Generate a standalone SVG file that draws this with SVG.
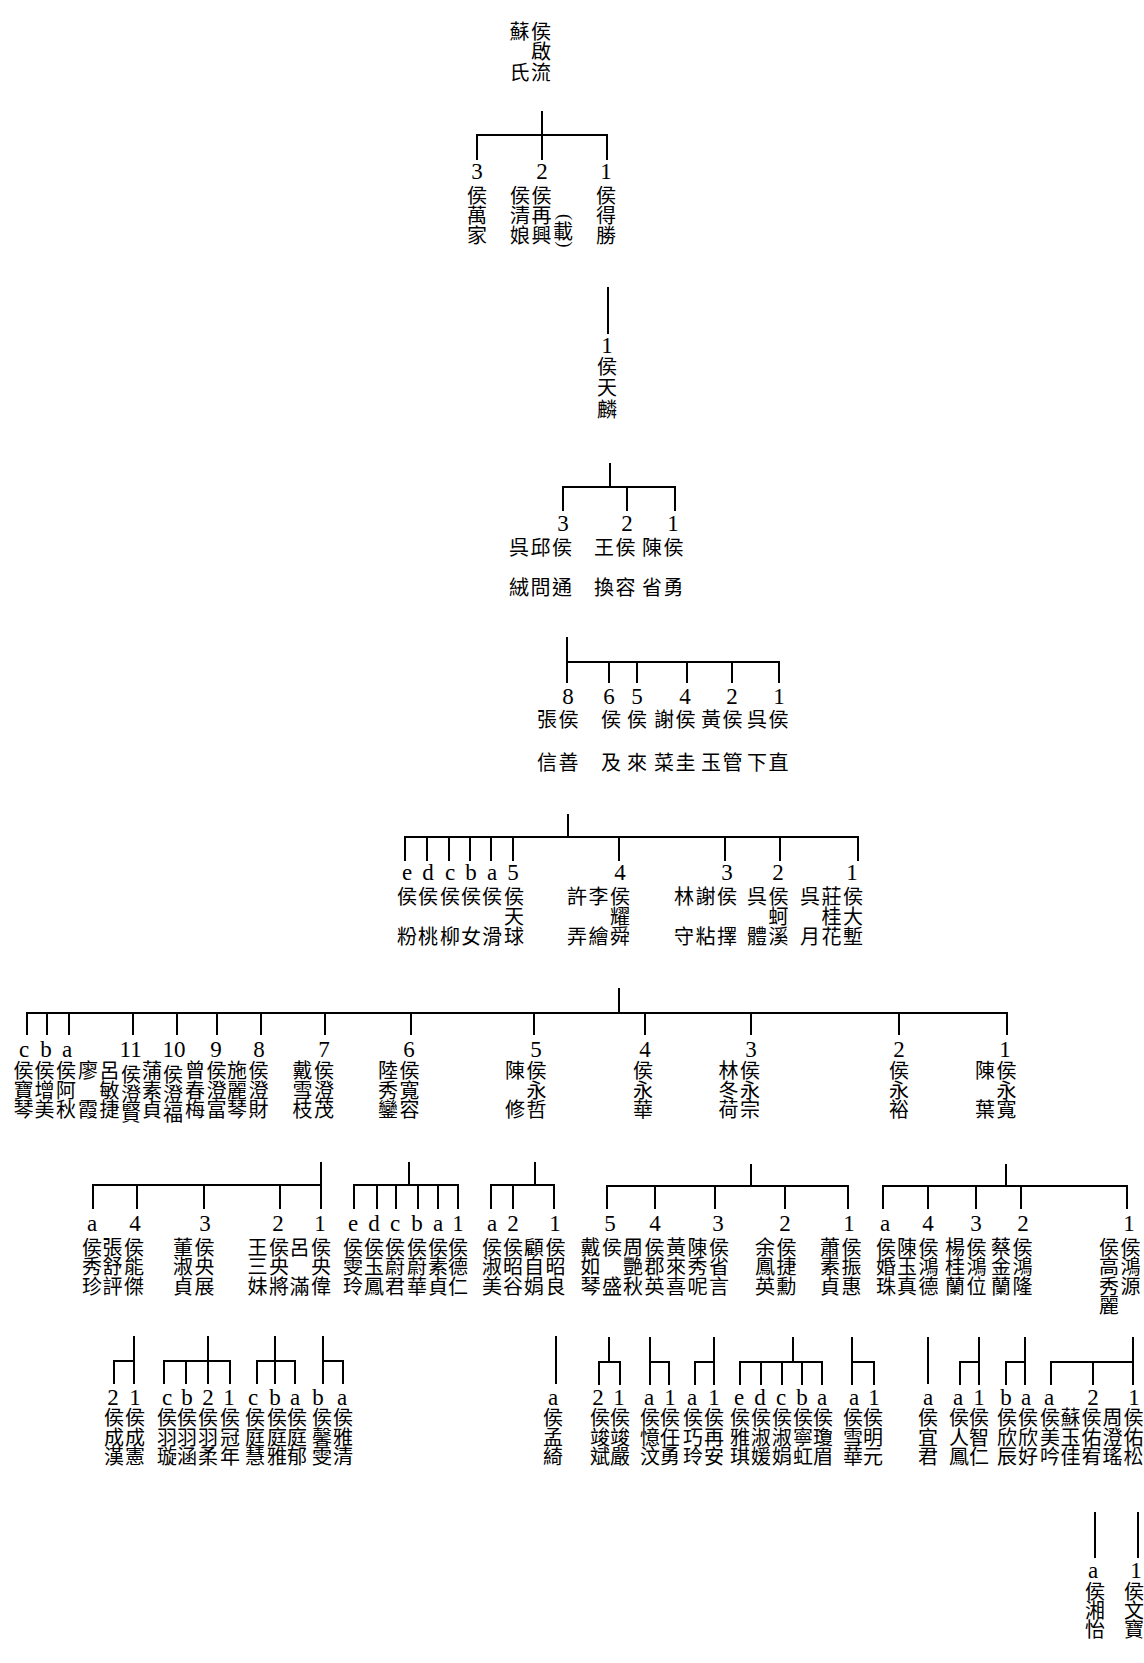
<svg xmlns="http://www.w3.org/2000/svg" width="1144" height="1663" viewBox="0 0 1144 1663">
<style>
.t{font-family:"Liberation Serif","Noto Sans CJK TC","Noto Sans CJK JP",serif;font-size:20px;fill:#000}
.n{font-family:"Liberation Serif",serif;font-size:23px}
.p{font-family:"Liberation Serif",serif;font-size:18px}
.c path{stroke:#000;stroke-width:2;fill:none;stroke-linecap:square}
</style>
<rect width="1144" height="1663" fill="#fff"/>
<g id="connectors" class="c">
<path d="M542,112V135M477,135H607M477,135V159M542,135V159M607,135V159"/>
<path d="M608,288V333"/>
<path d="M610,464V487M563,487H675M563,487V510M627,487V510M675,487V510"/>
<path d="M567,638V682M567,662H779M609,662V682M637,662V682M687,662V682M732,662V682M779,662V682"/>
<path d="M568,815V837M405,837H858M405,837V860M427,837V860M449,837V860M470,837V860M491,837V860M513,837V860M619,837V860M725,837V860M780,837V860M858,837V860"/>
<path d="M619,989V1013M27,1013H1007M27,1013V1034M47,1013V1034M69,1013V1034M133,1013V1034M177,1013V1034M217,1013V1034M261,1013V1034M325,1013V1034M411,1013V1034M534,1013V1034M645,1013V1034M751,1013V1034M899,1013V1034M1007,1013V1034"/>
<path d="M321,1163V1208M93,1185H321M93,1185V1208M137,1185V1208M204,1185V1208M280,1185V1208"/>
<path d="M409,1163V1185M354,1185H458M354,1185V1208M377,1185V1208M396,1185V1208M418,1185V1208M438,1185V1208M458,1185V1208"/>
<path d="M535,1163V1185M491,1185H554M491,1185V1208M513,1185V1208M554,1185V1208"/>
<path d="M751,1165V1186M607,1186H848M607,1186V1208M655,1186V1208M715,1186V1208M785,1186V1208M848,1186V1208"/>
<path d="M1006,1165V1186M883,1186H1127M883,1186V1208M928,1186V1208M976,1186V1208M1021,1186V1208M1127,1186V1208"/>
<path d="M134,1337V1383M114,1361H134M114,1361V1383"/>
<path d="M208,1337V1383M164,1361H230M164,1361V1383M186,1361V1383M230,1361V1383"/>
<path d="M275,1337V1383M257,1361H295M257,1361V1383M295,1361V1383"/>
<path d="M323,1337V1383M323,1361H343M343,1361V1383"/>
<path d="M556,1337V1383"/>
<path d="M609,1338V1362M599,1362H620M599,1362V1384M620,1362V1384"/>
<path d="M650,1338V1384M650,1362H669M669,1362V1384"/>
<path d="M714,1338V1384M695,1362H714M695,1362V1384"/>
<path d="M793,1338V1362M740,1362H822M740,1362V1384M761,1362V1384M782,1362V1384M802,1362V1384M822,1362V1384"/>
<path d="M852,1338V1384M852,1362H874M874,1362V1384"/>
<path d="M928,1338V1383"/>
<path d="M979,1338V1384M960,1362H979M960,1362V1384"/>
<path d="M1025,1338V1384M1006,1362H1025M1006,1362V1384"/>
<path d="M1133,1338V1384M1051,1362H1133M1051,1362V1384M1093,1362V1384"/>
<path d="M1095,1513V1557M1138,1513V1557"/>
</g>

<g id="n0"><text class="t"><tspan x="509.5 531" y="38.5">蘇侯</tspan><tspan x="531" y="59">啟</tspan><tspan x="509.5 531" y="79.5">氏流</tspan></text></g>

<g id="n1-3"><text class="t"><tspan class="n" x="471.25" y="179">3</tspan><tspan x="467" y="203">侯</tspan><tspan x="467" y="223">萬</tspan><tspan x="467" y="243">家</tspan></text></g>
<g id="n1-2"><text class="t"><tspan class="n" x="536.25" y="179">2</tspan><tspan x="510 531.5" y="203">侯侯</tspan><tspan x="510 531.5" y="223">清再</tspan><tspan x="510 531.5" y="243">娘興</tspan><tspan x="553" y="238.5">載</tspan><tspan class="p" x="559" y="214" rotate="90">(</tspan><tspan class="p" x="559" y="241.5" rotate="90">)</tspan></text></g>
<g id="n1-1"><text class="t"><tspan class="n" x="600.25" y="179">1</tspan><tspan x="596" y="203">侯</tspan><tspan x="596" y="223">得</tspan><tspan x="596" y="243">勝</tspan></text></g>

<g id="n2-1"><text class="t"><tspan class="n" x="601.25" y="352.5">1</tspan><tspan x="597" y="373.5">侯</tspan><tspan x="597" y="395">天</tspan><tspan x="597" y="417">麟</tspan></text></g>

<g id="n3-3"><text class="t"><tspan class="n" x="557.25" y="531">3</tspan><tspan x="509 530.5 552" y="554.5">呉邱侯</tspan><tspan x="509 530.5 552" y="594.5">絨問通</tspan></text></g>
<g id="n3-2"><text class="t"><tspan class="n" x="621.25" y="531">2</tspan><tspan x="594 615.5" y="554.5">王侯</tspan><tspan x="594 615.5" y="594.5">換容</tspan></text></g>
<g id="n3-1"><text class="t"><tspan class="n" x="667.25" y="531">1</tspan><tspan x="642 663.5" y="554.5">陳侯</tspan><tspan x="642 663.5" y="594.5">省勇</tspan></text></g>

<g id="n4-8"><text class="t"><tspan class="n" x="562.25" y="704">8</tspan><tspan x="537 558.5" y="726.5">張侯</tspan><tspan x="537 558.5" y="769.5">信善</tspan></text></g>
<g id="n4-6"><text class="t"><tspan class="n" x="603.25" y="704">6</tspan><tspan x="601" y="726.5">侯</tspan><tspan x="601" y="769.5">及</tspan></text></g>
<g id="n4-5"><text class="t"><tspan class="n" x="631.25" y="704">5</tspan><tspan x="627" y="726.5">侯</tspan><tspan x="627" y="769.5">來</tspan></text></g>
<g id="n4-4"><text class="t"><tspan class="n" x="679.25" y="704">4</tspan><tspan x="654 675.5" y="726.5">謝侯</tspan><tspan x="654 675.5" y="769.5">菜圭</tspan></text></g>
<g id="n4-2"><text class="t"><tspan class="n" x="726.25" y="704">2</tspan><tspan x="701 722.5" y="726.5">黃侯</tspan><tspan x="701 722.5" y="769.5">玉管</tspan></text></g>
<g id="n4-1"><text class="t"><tspan class="n" x="773.25" y="704">1</tspan><tspan x="747 768.5" y="726.5">呉侯</tspan><tspan x="747 768.5" y="769.5">下直</tspan></text></g>

<g id="n5-e"><text class="t"><tspan class="n" x="401.9" y="880">e</tspan><tspan x="397" y="903.5">侯</tspan><tspan x="397" y="943.5">粉</tspan></text></g>
<g id="n5-d"><text class="t"><tspan class="n" x="422.25" y="880">d</tspan><tspan x="418" y="903.5">侯</tspan><tspan x="418" y="943.5">桃</tspan></text></g>
<g id="n5-c"><text class="t"><tspan class="n" x="444.9" y="880">c</tspan><tspan x="440" y="903.5">侯</tspan><tspan x="440" y="943.5">柳</tspan></text></g>
<g id="n5-b"><text class="t"><tspan class="n" x="465.25" y="880">b</tspan><tspan x="461" y="903.5">侯</tspan><tspan x="461" y="943.5">女</tspan></text></g>
<g id="n5-a"><text class="t"><tspan class="n" x="486.9" y="880">a</tspan><tspan x="482" y="903.5">侯</tspan><tspan x="482" y="943.5">滑</tspan></text></g>
<g id="n5-5"><text class="t"><tspan class="n" x="507.25" y="880">5</tspan><tspan x="504" y="903.5">侯</tspan><tspan x="504" y="923.5">天</tspan><tspan x="504" y="943.5">球</tspan></text></g>
<g id="n5-4"><text class="t"><tspan class="n" x="614.25" y="880">4</tspan><tspan x="567 588.5 610" y="903.5">許李侯</tspan><tspan x="610" y="923.5">耀</tspan><tspan x="567 588.5 610" y="943.5">弄繪舜</tspan></text></g>
<g id="n5-3"><text class="t"><tspan class="n" x="721.25" y="880">3</tspan><tspan x="674 695.5 717" y="903.5">林謝侯</tspan><tspan x="674 695.5 717" y="943.5">守粘擇</tspan></text></g>
<g id="n5-2"><text class="t"><tspan class="n" x="772.25" y="880">2</tspan><tspan x="747 768.5" y="903.5">呉侯</tspan><tspan x="768.5" y="923.5">蚵</tspan><tspan x="747 768.5" y="943.5">體溪</tspan></text></g>
<g id="n5-1"><text class="t"><tspan class="n" x="846.25" y="880">1</tspan><tspan x="800 821.5 843" y="903.5">呉莊侯</tspan><tspan x="821.5 843" y="923.5">桂大</tspan><tspan x="800 821.5 843" y="943.5">月花塹</tspan></text></g>

<g id="n6-c"><text class="t"><tspan class="n" x="18.9" y="1057">c</tspan><tspan x="13.5" y="1078">侯</tspan><tspan x="13.5" y="1097.5">寶</tspan><tspan x="13.5" y="1117">琴</tspan></text></g>
<g id="n6-b"><text class="t"><tspan class="n" x="40.25" y="1057">b</tspan><tspan x="34.5" y="1078">侯</tspan><tspan x="34.5" y="1097.5">增</tspan><tspan x="34.5" y="1117">美</tspan></text></g>
<g id="n6-a"><text class="t"><tspan class="n" x="61.9" y="1057">a</tspan><tspan x="56" y="1078">侯</tspan><tspan x="56" y="1097.5">阿</tspan><tspan x="56" y="1117">秋</tspan></text></g>
<g id="n6-11"><text class="t"><tspan class="n" x="119.5" y="1057">11</tspan><tspan x="78 99.5" y="1078">廖呂</tspan><tspan x="99.5" y="1097.5">敏</tspan><tspan x="78 99.5" y="1117">霞捷</tspan><tspan x="121" y="1082">侯</tspan><tspan x="121" y="1101.5">澄</tspan><tspan x="121" y="1121">賢</tspan></text></g>
<g id="n6-10"><text class="t"><tspan class="n" x="162.5" y="1057">10</tspan><tspan x="142" y="1078">蒲</tspan><tspan x="142" y="1097.5">素</tspan><tspan x="142" y="1117">貞</tspan><tspan x="163" y="1082">侯</tspan><tspan x="163" y="1101.5">澄</tspan><tspan x="163" y="1121">福</tspan></text></g>
<g id="n6-9"><text class="t"><tspan class="n" x="210.25" y="1057">9</tspan><tspan x="185 206.5" y="1078">曾侯</tspan><tspan x="185 206.5" y="1097.5">春澄</tspan><tspan x="185 206.5" y="1117">梅富</tspan></text></g>
<g id="n6-8"><text class="t"><tspan class="n" x="253.25" y="1057">8</tspan><tspan x="227 248.5" y="1078">施侯</tspan><tspan x="227 248.5" y="1097.5">麗澄</tspan><tspan x="227 248.5" y="1117">琴財</tspan></text></g>
<g id="n6-7"><text class="t"><tspan class="n" x="318.25" y="1057">7</tspan><tspan x="292.5 314" y="1078">戴侯</tspan><tspan x="292.5 314" y="1097.5">雪澄</tspan><tspan x="292.5 314" y="1117">枝茂</tspan></text></g>
<g id="n6-6"><text class="t"><tspan class="n" x="403.25" y="1057">6</tspan><tspan x="378 399.5" y="1078">陸侯</tspan><tspan x="378 399.5" y="1097.5">秀寬</tspan><tspan x="378 399.5" y="1117">鑾容</tspan></text></g>
<g id="n6-5"><text class="t"><tspan class="n" x="530.25" y="1057">5</tspan><tspan x="505 526.5" y="1078">陳侯</tspan><tspan x="526.5" y="1097.5">永</tspan><tspan x="505 526.5" y="1117">修哲</tspan></text></g>
<g id="n6-4"><text class="t"><tspan class="n" x="639.25" y="1057">4</tspan><tspan x="633" y="1078">侯</tspan><tspan x="633" y="1097.5">永</tspan><tspan x="633" y="1117">華</tspan></text></g>
<g id="n6-3"><text class="t"><tspan class="n" x="745.25" y="1057">3</tspan><tspan x="718.5 740" y="1078">林侯</tspan><tspan x="718.5 740" y="1097.5">冬永</tspan><tspan x="718.5 740" y="1117">荷宗</tspan></text></g>
<g id="n6-2"><text class="t"><tspan class="n" x="893.25" y="1057">2</tspan><tspan x="889" y="1078">侯</tspan><tspan x="889" y="1097.5">永</tspan><tspan x="889" y="1117">裕</tspan></text></g>
<g id="n6-1"><text class="t"><tspan class="n" x="999.25" y="1057">1</tspan><tspan x="975 996.5" y="1078">陳侯</tspan><tspan x="996.5" y="1097.5">永</tspan><tspan x="975 996.5" y="1117">葉寬</tspan></text></g>

<g id="n7A-a"><text class="t"><tspan class="n" x="86.9" y="1231">a</tspan><tspan x="82" y="1254.5">侯</tspan><tspan x="82" y="1274">秀</tspan><tspan x="82" y="1293.5">珍</tspan></text></g>
<g id="n7A-4"><text class="t"><tspan class="n" x="129.25" y="1231">4</tspan><tspan x="102.5 124" y="1254.5">張侯</tspan><tspan x="102.5 124" y="1274">舒能</tspan><tspan x="102.5 124" y="1293.5">評傑</tspan></text></g>
<g id="n7A-3"><text class="t"><tspan class="n" x="199.25" y="1231">3</tspan><tspan x="173 194.5" y="1254.5">董侯</tspan><tspan x="173 194.5" y="1274">淑央</tspan><tspan x="173 194.5" y="1293.5">貞展</tspan></text></g>
<g id="n7A-2"><text class="t"><tspan class="n" x="272.25" y="1231">2</tspan><tspan x="247.5 269" y="1254.5">王侯</tspan><tspan x="247.5 269" y="1274">三央</tspan><tspan x="247.5 269" y="1293.5">妹將</tspan></text></g>
<g id="n7A-1"><text class="t"><tspan class="n" x="314.25" y="1231">1</tspan><tspan x="289.5 311" y="1254.5">呂侯</tspan><tspan x="311" y="1274">央</tspan><tspan x="289.5 311" y="1293.5">滿偉</tspan></text></g>
<g id="n7B-e"><text class="t"><tspan class="n" x="347.9" y="1231">e</tspan><tspan x="343" y="1254.5">侯</tspan><tspan x="343" y="1274">雯</tspan><tspan x="343" y="1293.5">玲</tspan></text></g>
<g id="n7B-d"><text class="t"><tspan class="n" x="368.25" y="1231">d</tspan><tspan x="364" y="1254.5">侯</tspan><tspan x="364" y="1274">玉</tspan><tspan x="364" y="1293.5">鳳</tspan></text></g>
<g id="n7B-c"><text class="t"><tspan class="n" x="389.9" y="1231">c</tspan><tspan x="385" y="1254.5">侯</tspan><tspan x="385" y="1274">蔚</tspan><tspan x="385" y="1293.5">君</tspan></text></g>
<g id="n7B-b"><text class="t"><tspan class="n" x="411.25" y="1231">b</tspan><tspan x="407" y="1254.5">侯</tspan><tspan x="407" y="1274">蔚</tspan><tspan x="407" y="1293.5">華</tspan></text></g>
<g id="n7B-a"><text class="t"><tspan class="n" x="432.9" y="1231">a</tspan><tspan x="428" y="1254.5">侯</tspan><tspan x="428" y="1274">素</tspan><tspan x="428" y="1293.5">貞</tspan></text></g>
<g id="n7B-1"><text class="t"><tspan class="n" x="452.25" y="1231">1</tspan><tspan x="448" y="1254.5">侯</tspan><tspan x="448" y="1274">德</tspan><tspan x="448" y="1293.5">仁</tspan></text></g>
<g id="n7C-a"><text class="t"><tspan class="n" x="486.9" y="1231">a</tspan><tspan x="482" y="1254.5">侯</tspan><tspan x="482" y="1274">淑</tspan><tspan x="482" y="1293.5">美</tspan></text></g>
<g id="n7C-2"><text class="t"><tspan class="n" x="507.25" y="1231">2</tspan><tspan x="503" y="1254.5">侯</tspan><tspan x="503" y="1274">昭</tspan><tspan x="503" y="1293.5">谷</tspan></text></g>
<g id="n7C-1"><text class="t"><tspan class="n" x="549.25" y="1231">1</tspan><tspan x="524 545.5" y="1254.5">顧侯</tspan><tspan x="524 545.5" y="1274">自昭</tspan><tspan x="524 545.5" y="1293.5">娟良</tspan></text></g>
<g id="n7D-5"><text class="t"><tspan class="n" x="604.25" y="1231">5</tspan><tspan x="580.5 602" y="1254.5">戴侯</tspan><tspan x="580.5" y="1274">如</tspan><tspan x="580.5 602" y="1293.5">琴盛</tspan></text></g>
<g id="n7D-4"><text class="t"><tspan class="n" x="649.25" y="1231">4</tspan><tspan x="623 644.5" y="1254.5">周侯</tspan><tspan x="623 644.5" y="1274">艷郡</tspan><tspan x="623 644.5" y="1293.5">秋英</tspan></text></g>
<g id="n7D-3"><text class="t"><tspan class="n" x="712.25" y="1231">3</tspan><tspan x="666 687.5 709" y="1254.5">黃陳侯</tspan><tspan x="666 687.5 709" y="1274">來秀省</tspan><tspan x="666 687.5 709" y="1293.5">喜呢言</tspan></text></g>
<g id="n7D-2"><text class="t"><tspan class="n" x="779.25" y="1231">2</tspan><tspan x="755 776.5" y="1254.5">余侯</tspan><tspan x="755 776.5" y="1274">鳳捷</tspan><tspan x="755 776.5" y="1293.5">英勳</tspan></text></g>
<g id="n7D-1"><text class="t"><tspan class="n" x="843.25" y="1231">1</tspan><tspan x="820 841.5" y="1254.5">蕭侯</tspan><tspan x="820 841.5" y="1274">素振</tspan><tspan x="820 841.5" y="1293.5">貞惠</tspan></text></g>
<g id="n7E-a"><text class="t"><tspan class="n" x="879.9" y="1231">a</tspan><tspan x="876" y="1254.5">侯</tspan><tspan x="876" y="1274">婚</tspan><tspan x="876" y="1293.5">珠</tspan></text></g>
<g id="n7E-4"><text class="t"><tspan class="n" x="922.25" y="1231">4</tspan><tspan x="897 918.5" y="1254.5">陳侯</tspan><tspan x="897 918.5" y="1274">玉鴻</tspan><tspan x="897 918.5" y="1293.5">真德</tspan></text></g>
<g id="n7E-3"><text class="t"><tspan class="n" x="970.25" y="1231">3</tspan><tspan x="945 966.5" y="1254.5">楊侯</tspan><tspan x="945 966.5" y="1274">桂鴻</tspan><tspan x="945 966.5" y="1293.5">蘭位</tspan></text></g>
<g id="n7E-2"><text class="t"><tspan class="n" x="1017.25" y="1231">2</tspan><tspan x="991 1012.5" y="1254.5">蔡侯</tspan><tspan x="991 1012.5" y="1274">金鴻</tspan><tspan x="991 1012.5" y="1293.5">蘭隆</tspan></text></g>
<g id="n7E-1"><text class="t"><tspan class="n" x="1123.25" y="1231">1</tspan><tspan x="1099 1120.5" y="1254.5">侯侯</tspan><tspan x="1099 1120.5" y="1274">高鴻</tspan><tspan x="1099 1120.5" y="1293.5">秀源</tspan><tspan x="1099" y="1313">麗</tspan></text></g>

<g id="n8A4-2"><text class="t"><tspan class="n" x="107.25" y="1404.5">2</tspan><tspan x="104" y="1425">侯</tspan><tspan x="104" y="1444.5">成</tspan><tspan x="104" y="1464">漢</tspan></text></g>
<g id="n8A4-1"><text class="t"><tspan class="n" x="129.25" y="1404.5">1</tspan><tspan x="125" y="1425">侯</tspan><tspan x="125" y="1444.5">成</tspan><tspan x="125" y="1464">憲</tspan></text></g>
<g id="n8A3-c"><text class="t"><tspan class="n" x="161.9" y="1404.5">c</tspan><tspan x="157" y="1425">侯</tspan><tspan x="157" y="1444.5">羽</tspan><tspan x="157" y="1464">璇</tspan></text></g>
<g id="n8A3-b"><text class="t"><tspan class="n" x="181.25" y="1404.5">b</tspan><tspan x="177" y="1425">侯</tspan><tspan x="177" y="1444.5">羽</tspan><tspan x="177" y="1464">涵</tspan></text></g>
<g id="n8A3-2"><text class="t"><tspan class="n" x="202.25" y="1404.5">2</tspan><tspan x="198" y="1425">侯</tspan><tspan x="198" y="1444.5">羽</tspan><tspan x="198" y="1464">柔</tspan></text></g>
<g id="n8A3-1"><text class="t"><tspan class="n" x="223.25" y="1404.5">1</tspan><tspan x="220" y="1425">侯</tspan><tspan x="220" y="1444.5">冠</tspan><tspan x="220" y="1464">年</tspan></text></g>
<g id="n8A2-c"><text class="t"><tspan class="n" x="247.9" y="1404.5">c</tspan><tspan x="245" y="1425">侯</tspan><tspan x="245" y="1444.5">庭</tspan><tspan x="245" y="1464">慧</tspan></text></g>
<g id="n8A2-b"><text class="t"><tspan class="n" x="269.25" y="1404.5">b</tspan><tspan x="267" y="1425">侯</tspan><tspan x="267" y="1444.5">庭</tspan><tspan x="267" y="1464">雅</tspan></text></g>
<g id="n8A2-a"><text class="t"><tspan class="n" x="289.9" y="1404.5">a</tspan><tspan x="287" y="1425">侯</tspan><tspan x="287" y="1444.5">庭</tspan><tspan x="287" y="1464">郁</tspan></text></g>
<g id="n8A1-b"><text class="t"><tspan class="n" x="312.25" y="1404.5">b</tspan><tspan x="312" y="1425">侯</tspan><tspan x="312" y="1444.5">馨</tspan><tspan x="312" y="1464">雯</tspan></text></g>
<g id="n8A1-a"><text class="t"><tspan class="n" x="336.9" y="1404.5">a</tspan><tspan x="333" y="1425">侯</tspan><tspan x="333" y="1444.5">雅</tspan><tspan x="333" y="1464">清</tspan></text></g>
<g id="n8C1-a"><text class="t"><tspan class="n" x="547.9" y="1404.5">a</tspan><tspan x="543" y="1425">侯</tspan><tspan x="543" y="1444.5">孟</tspan><tspan x="543" y="1464">綺</tspan></text></g>
<g id="n8D5-2"><text class="t"><tspan class="n" x="592.25" y="1404.5">2</tspan><tspan x="590" y="1425">侯</tspan><tspan x="590" y="1444.5">竣</tspan><tspan x="590" y="1464">斌</tspan></text></g>
<g id="n8D5-1"><text class="t"><tspan class="n" x="613.25" y="1404.5">1</tspan><tspan x="610" y="1425">侯</tspan><tspan x="610" y="1444.5">竣</tspan><tspan x="610" y="1464">嚴</tspan></text></g>
<g id="n8D4-a"><text class="t"><tspan class="n" x="643.9" y="1404.5">a</tspan><tspan x="640" y="1425">侯</tspan><tspan x="640" y="1444.5">憶</tspan><tspan x="640" y="1464">汶</tspan></text></g>
<g id="n8D4-1"><text class="t"><tspan class="n" x="664.25" y="1404.5">1</tspan><tspan x="660" y="1425">侯</tspan><tspan x="660" y="1444.5">任</tspan><tspan x="660" y="1464">勇</tspan></text></g>
<g id="n8D3-a"><text class="t"><tspan class="n" x="686.9" y="1404.5">a</tspan><tspan x="683" y="1425">侯</tspan><tspan x="683" y="1444.5">巧</tspan><tspan x="683" y="1464">玲</tspan></text></g>
<g id="n8D3-1"><text class="t"><tspan class="n" x="708.25" y="1404.5">1</tspan><tspan x="704" y="1425">侯</tspan><tspan x="704" y="1444.5">再</tspan><tspan x="704" y="1464">安</tspan></text></g>
<g id="n8D2-e"><text class="t"><tspan class="n" x="733.9" y="1404.5">e</tspan><tspan x="730" y="1425">侯</tspan><tspan x="730" y="1444.5">雅</tspan><tspan x="730" y="1464">琪</tspan></text></g>
<g id="n8D2-d"><text class="t"><tspan class="n" x="754.25" y="1404.5">d</tspan><tspan x="751" y="1425">侯</tspan><tspan x="751" y="1444.5">淑</tspan><tspan x="751" y="1464">媛</tspan></text></g>
<g id="n8D2-c"><text class="t"><tspan class="n" x="775.9" y="1404.5">c</tspan><tspan x="772" y="1425">侯</tspan><tspan x="772" y="1444.5">淑</tspan><tspan x="772" y="1464">娟</tspan></text></g>
<g id="n8D2-b"><text class="t"><tspan class="n" x="796.25" y="1404.5">b</tspan><tspan x="793" y="1425">侯</tspan><tspan x="793" y="1444.5">寧</tspan><tspan x="793" y="1464">虹</tspan></text></g>
<g id="n8D2-a"><text class="t"><tspan class="n" x="816.9" y="1404.5">a</tspan><tspan x="813" y="1425">侯</tspan><tspan x="813" y="1444.5">瓊</tspan><tspan x="813" y="1464">眉</tspan></text></g>
<g id="n8D1-a"><text class="t"><tspan class="n" x="848.9" y="1404.5">a</tspan><tspan x="843" y="1425">侯</tspan><tspan x="843" y="1444.5">雪</tspan><tspan x="843" y="1464">華</tspan></text></g>
<g id="n8D1-1"><text class="t"><tspan class="n" x="868.25" y="1404.5">1</tspan><tspan x="863" y="1425">侯</tspan><tspan x="863" y="1444.5">明</tspan><tspan x="863" y="1464">元</tspan></text></g>
<g id="n8E4-a"><text class="t"><tspan class="n" x="922.9" y="1404.5">a</tspan><tspan x="918" y="1425">侯</tspan><tspan x="918" y="1444.5">宜</tspan><tspan x="918" y="1464">君</tspan></text></g>
<g id="n8E3-a"><text class="t"><tspan class="n" x="952.9" y="1404.5">a</tspan><tspan x="949" y="1425">侯</tspan><tspan x="949" y="1444.5">人</tspan><tspan x="949" y="1464">鳳</tspan></text></g>
<g id="n8E3-1"><text class="t"><tspan class="n" x="973.25" y="1404.5">1</tspan><tspan x="969" y="1425">侯</tspan><tspan x="969" y="1444.5">智</tspan><tspan x="969" y="1464">仁</tspan></text></g>
<g id="n8E2-b"><text class="t"><tspan class="n" x="1000.25" y="1404.5">b</tspan><tspan x="997" y="1425">侯</tspan><tspan x="997" y="1444.5">欣</tspan><tspan x="997" y="1464">辰</tspan></text></g>
<g id="n8E2-a"><text class="t"><tspan class="n" x="1020.9" y="1404.5">a</tspan><tspan x="1018" y="1425">侯</tspan><tspan x="1018" y="1444.5">欣</tspan><tspan x="1018" y="1464">好</tspan></text></g>
<g id="n8E1-a"><text class="t"><tspan class="n" x="1043.9" y="1404.5">a</tspan><tspan x="1040" y="1425">侯</tspan><tspan x="1040" y="1444.5">美</tspan><tspan x="1040" y="1464">吟</tspan></text></g>
<g id="n8E1-2"><text class="t"><tspan class="n" x="1087.25" y="1404.5">2</tspan><tspan x="1060.5 1081.5" y="1425">蘇侯</tspan><tspan x="1060.5 1081.5" y="1444.5">玉佑</tspan><tspan x="1060.5 1081.5" y="1464">佳宥</tspan></text></g>
<g id="n8E1-1"><text class="t"><tspan class="n" x="1128.25" y="1404.5">1</tspan><tspan x="1102.5 1123.5" y="1425">周侯</tspan><tspan x="1102.5 1123.5" y="1444.5">澄佑</tspan><tspan x="1102.5 1123.5" y="1464">瑤松</tspan></text></g>

<g id="n9-a"><text class="t"><tspan class="n" x="1087.9" y="1577.5">a</tspan><tspan x="1085" y="1598.5">侯</tspan><tspan x="1085" y="1618">湘</tspan><tspan x="1085" y="1637">怡</tspan></text></g>
<g id="n9-1"><text class="t"><tspan class="n" x="1130.25" y="1577.5">1</tspan><tspan x="1124" y="1598.5">侯</tspan><tspan x="1124" y="1618">文</tspan><tspan x="1124" y="1637">寶</tspan></text></g>
</svg>
